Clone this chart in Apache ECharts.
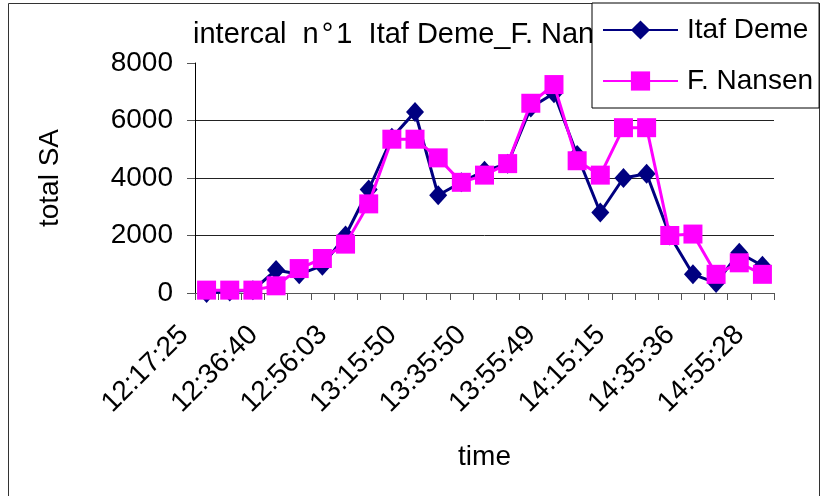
<!DOCTYPE html>
<html>
<head>
<meta charset="utf-8">
<script src="https://cdn.jsdelivr.net/npm/echarts@6/dist/echarts.min.js"></script>
<style>
  html, body { margin: 0; padding: 0; background: #ffffff; }
  #chart { width: 821px; height: 496px; }
</style>
</head>
<body>
<div id="chart"></div>
<script>
// Tick labels shown on the time axis (every third sample is labelled)
const tickLabels = ['12:17:25', '12:36:40', '12:56:03', '13:15:50', '13:35:50',
                    '13:55:49', '14:15:15', '14:35:36', '14:55:28'];
const sampleCount = 25;
const labelStep = 3;

// total SA per interval, two vessels
const itafDeme = [0, 50, 100, 800, 650, 950, 2000, 3600, 5400, 6300, 3400, 3850, 4250,
                  4500, 6450, 6950, 4800, 2800, 4000, 4150, 2000, 650, 350, 1400, 950];
const fNansen  = [100, 100, 100, 250, 850, 1200, 1700, 3100, 5350, 5350, 4700, 3850, 4100,
                  4500, 6600, 7250, 4600, 4100, 5750, 5750, 2000, 2050, 650, 1050, 650];

const yTicks = { min: 0, max: 8000, step: 2000 };

const categories = [];
for (let i = 0; i < sampleCount; i++) {
  categories.push(i % labelStep === 0 ? tickLabels[i / labelStep] : '');
}

const FONT = '"Liberation Sans", Arial, sans-serif';
const chart = echarts.init(document.getElementById('chart'), null, { renderer: 'canvas' });

chart.setOption({
  animation: false,
  backgroundColor: '#ffffff',
  graphic: [{
    type: 'rect',
    shape: { x: 8.5, y: 3.5, width: 811, height: 500 },
    style: { fill: 'none', stroke: '#333333', lineWidth: 1 },
    z: 0
  }],
  title: {
    text: '{t|intercal  n}{d|°}{t|1  Itaf Deme_F. Nansen}',
    left: 193,
    top: 20,
    padding: 0,
    z: 1,
    textStyle: {
      fontFamily: FONT, fontSize: 29, fontWeight: 'normal', color: '#000000',
      rich: {
        t: { fontFamily: FONT, fontSize: 29, color: '#000000' },
        d: { fontFamily: FONT, fontSize: 29, color: '#000000', padding: [0, 3, 0, 3] }
      }
    }
  },
  legend: {
    orient: 'vertical',
    left: 592,
    top: 3,
    z: 10,
    padding: [13, 6, 13, 10],
    backgroundColor: '#ffffff',
    borderColor: '#000000',
    borderWidth: 1,
    borderRadius: 0,
    itemWidth: 75,
    itemHeight: 24,
    itemGap: 23,
    textStyle: { fontFamily: FONT, fontSize: 28, color: '#000000', lineHeight: 28, padding: [0, 0, 0, 4] },
    data: ['Itaf Deme', 'F. Nansen']
  },
  grid: { left: 195, right: 47, top: 63, bottom: 203, containLabel: false },
  xAxis: {
    type: 'category',
    data: categories,
    boundaryGap: true,
    name: 'time',
    nameLocation: 'middle',
    nameGap: 150,
    nameTextStyle: { fontFamily: FONT, fontSize: 28, color: '#000000' },
    axisLine: { show: true, lineStyle: { color: '#555555', width: 1 } },
    axisTick: { show: true, interval: 0, length: 7, inside: false, lineStyle: { color: '#555555' } },
    axisLabel: {
      interval: labelStep - 1,
      rotate: 45,
      margin: 15,
      padding: [0, 32, 0, 0],
      fontFamily: FONT,
      fontSize: 28,
      color: '#000000'
    },
    splitLine: { show: false }
  },
  yAxis: {
    type: 'value',
    min: yTicks.min,
    max: yTicks.max,
    interval: yTicks.step,
    name: 'total SA',
    nameLocation: 'middle',
    nameRotate: 90,
    nameGap: 131,
    nameTextStyle: { fontFamily: FONT, fontSize: 28, color: '#000000' },
    axisLine: { show: true, lineStyle: { color: '#000000', width: 1 } },
    axisTick: { show: true, length: 8, inside: false, lineStyle: { color: '#555555' } },
    axisLabel: {
      margin: 22, fontFamily: FONT, fontSize: 28, color: '#000000',
      formatter: function (v) { return String(v); }
    },
    splitLine: {
      show: true,
      lineStyle: { color: ['#222222', '#222222', '#222222', '#222222', 'rgba(0,0,0,0)'], width: 1 }
    }
  },
  series: [
    {
      name: 'Itaf Deme',
      type: 'line',
      data: itafDeme,
      symbol: 'diamond',
      symbolSize: [18, 20],
      showAllSymbol: true,
      lineStyle: { color: '#000080', width: 3 },
      itemStyle: { color: '#000080' },
      z: 3
    },
    {
      name: 'F. Nansen',
      type: 'line',
      data: fNansen,
      symbol: 'rect',
      symbolSize: 19,
      showAllSymbol: true,
      lineStyle: { color: '#ff00ff', width: 3 },
      itemStyle: { color: '#ff00ff' },
      z: 4
    }
  ]
});
</script>
</body>
</html>
